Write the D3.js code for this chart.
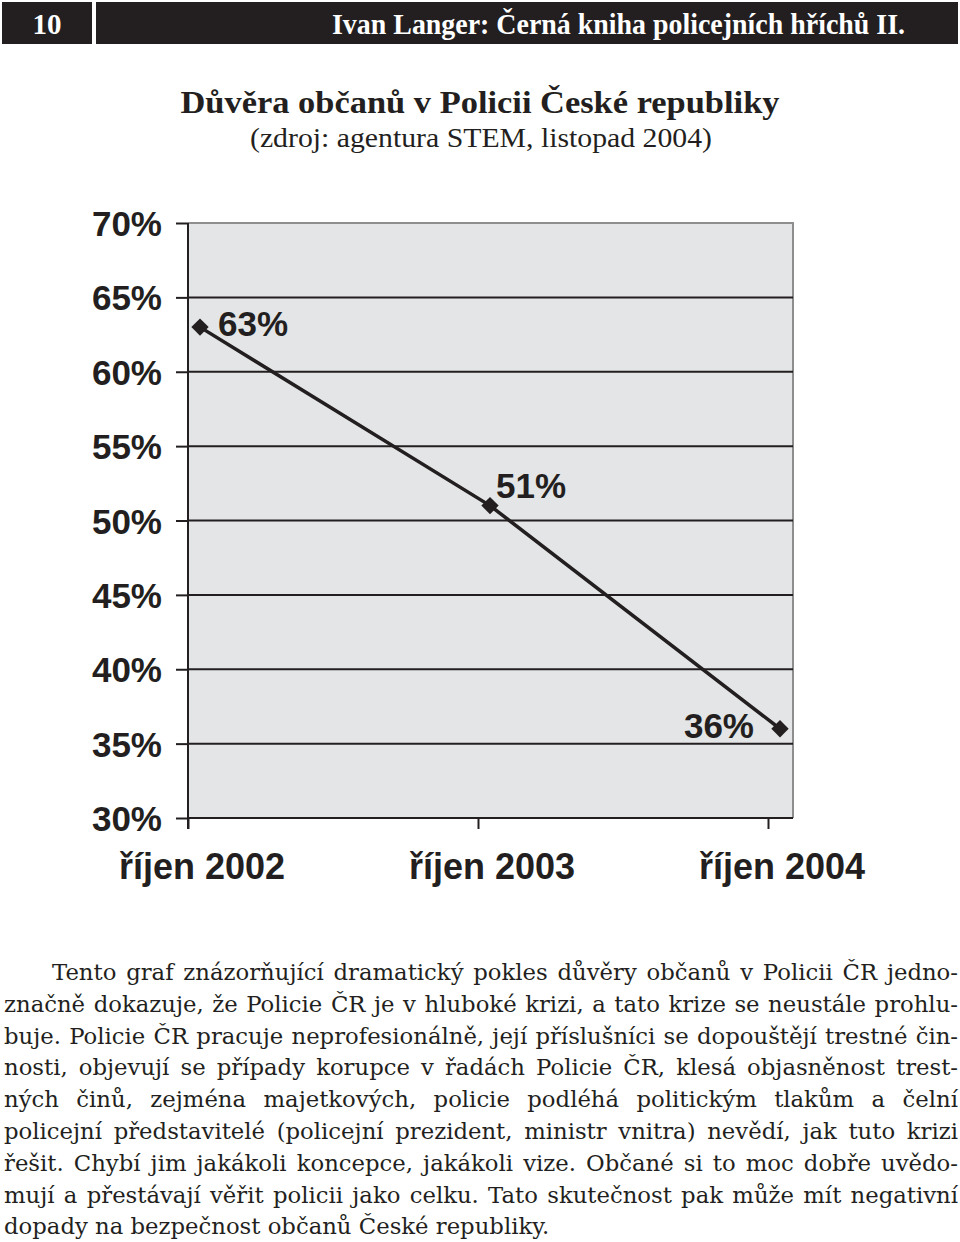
<!DOCTYPE html>
<html><head><meta charset="utf-8">
<script src="https://cdn.jsdelivr.net/npm/d3@7"></script>
<style>
html,body{margin:0;padding:0;background:#fff;}
svg{display:block;}
</style></head>
<body>
<svg id="c" width="960" height="1242"></svg>
<script>
// ---- data ----
const categories = ["říjen 2002", "říjen 2003", "říjen 2004"];
const values = [63, 51, 36];
const valueLabels = ["63%", "51%", "36%"];
const yTicks = [30, 35, 40, 45, 50, 55, 60, 65, 70];
const pageNumber = "10";
const headerTitle = "Ivan Langer: Černá kniha policejních hříchů II.";
const chartTitle = "Důvěra občanů v Policii České republiky";
const chartSubtitle = "(zdroj: agentura STEM, listopad 2004)";
const paragraphLines = [
  "Tento graf znázorňující dramatický pokles důvěry občanů v Policii ČR jedno-",
  "značně dokazuje, že Policie ČR je v hluboké krizi, a tato krize se neustále prohlu-",
  "buje. Policie ČR pracuje neprofesionálně, její příslušníci se dopouštějí trestné čin-",
  "nosti, objevují se případy korupce v řadách Policie ČR, klesá objasněnost trest-",
  "ných činů, zejména majetkových, policie podléhá politickým tlakům a čelní",
  "policejní představitelé (policejní prezident, ministr vnitra) nevědí, jak tuto krizi",
  "řešit. Chybí jim jakákoli koncepce, jakákoli vize. Občané si to moc dobře uvědo-",
  "mují a přestávají věřit policii jako celku. Tato skutečnost pak může mít negativní",
  "dopady na bezpečnost občanů České republiky."
];

const svg = d3.select("#c");
const dark = "#231f20";

// ---- header ----
svg.append("rect").attr("x", 2).attr("y", 2).attr("width", 90).attr("height", 42).attr("fill", dark);
svg.append("rect").attr("x", 96).attr("y", 2).attr("width", 862).attr("height", 42).attr("fill", dark);
svg.append("text").text(pageNumber).attr("x", 47).attr("y", 34)
  .attr("text-anchor", "middle").attr("fill", "#fff")
  .attr("textLength", 29).attr("lengthAdjust", "spacingAndGlyphs")
  .style("font-family", "'Liberation Serif', serif").style("font-weight", "bold").style("font-size", "30px");
svg.append("text").text(headerTitle).attr("x", 905).attr("y", 34)
  .attr("text-anchor", "end").attr("fill", "#fff")
  .attr("textLength", 573).attr("lengthAdjust", "spacingAndGlyphs")
  .style("font-family", "'Liberation Serif', serif").style("font-weight", "bold").style("font-size", "29px");

// ---- titles ----
svg.append("text").text(chartTitle).attr("x", 480).attr("y", 113)
  .attr("text-anchor", "middle").attr("fill", dark)
  .attr("textLength", 599).attr("lengthAdjust", "spacingAndGlyphs")
  .style("font-family", "'Liberation Serif', serif").style("font-weight", "bold").style("font-size", "32px");
svg.append("text").text(chartSubtitle).attr("x", 481).attr("y", 147)
  .attr("text-anchor", "middle").attr("fill", dark)
  .attr("textLength", 462).attr("lengthAdjust", "spacingAndGlyphs")
  .style("font-family", "'Liberation Serif', serif").style("font-size", "28px");

// ---- chart ----
const plot = {left: 187, right: 793, top: 223, bottom: 818};
const y = d3.scaleLinear().domain([30, 70]).range([plot.bottom, plot.top]);
const xTick = d3.scalePoint().domain(categories).range([188, 768]);
const pointShift = 12;
const xp = c => xTick(c) + pointShift;

const g = svg.append("g");
g.append("rect").attr("x", plot.left).attr("y", plot.top)
  .attr("width", plot.right - plot.left).attr("height", plot.bottom - plot.top)
  .attr("fill", "#e4e5e7");
g.append("path").attr("d", `M${plot.left},${plot.top}H${plot.right}V${plot.bottom}`)
  .attr("fill", "none").attr("stroke", "#8e8e8e").attr("stroke-width", 2);

// y axis with gridlines
const yAxis = d3.axisLeft(y).tickValues(yTicks).tickFormat(d => d + "%")
  .tickSize(11).tickPadding(14);
const ya = g.append("g").attr("transform", `translate(${plot.left},0)`).call(yAxis);
ya.select(".domain").remove();
ya.selectAll(".tick line").attr("stroke", dark).attr("stroke-width", 2);
ya.selectAll(".tick text").attr("fill", dark)
  .style("font-family", "'Liberation Sans', Arial, sans-serif").style("font-weight", "bold").style("font-size", "35px")
  .attr("dy", "0.36em");
g.append("g").selectAll("line").data(yTicks.filter(d => d < 70)).join("line")
  .attr("x1", plot.left).attr("x2", plot.right)
  .attr("y1", d => y(d)).attr("y2", d => y(d))
  .attr("stroke", dark).attr("stroke-width", 2);
g.append("line").attr("x1", plot.left + 1).attr("x2", plot.left + 1)
  .attr("y1", plot.top).attr("y2", plot.bottom + 11)
  .attr("stroke", dark).attr("stroke-width", 2);

// x axis
const xAxis = d3.axisBottom(xTick).tickSize(11).tickFormat("");
const xa = g.append("g").attr("transform", `translate(0,${plot.bottom})`).call(xAxis);
xa.select(".domain").remove();
xa.selectAll(".tick line").attr("stroke", dark).attr("stroke-width", 2);
g.append("g").selectAll("text").data(categories).join("text")
  .text(d => d).attr("x", d => xp(d) + 2).attr("y", 879)
  .attr("text-anchor", "middle").attr("fill", dark)
  .style("font-family", "'Liberation Sans', Arial, sans-serif").style("font-weight", "bold").style("font-size", "36px");

// line
const pts = categories.map((c, i) => ({c, v: values[i], l: valueLabels[i]}));
g.append("path").datum(pts)
  .attr("d", d3.line().x(d => xp(d.c)).y(d => y(d.v)))
  .attr("fill", "none").attr("stroke", dark).attr("stroke-width", 3.5);
g.append("g").selectAll("path").data(pts).join("path")
  .attr("d", d3.symbol().type(d3.symbolSquare).size(150))
  .attr("transform", d => `translate(${xp(d.c)},${y(d.v)}) rotate(45)`)
  .attr("fill", dark);

// value labels
const labelOffsets = [
  {dx: 18, dy: 9, anchor: "start"},
  {dx: 6, dy: -8, anchor: "start"},
  {dx: -26, dy: 9, anchor: "end"}
];
g.append("g").selectAll("text").data(pts).join("text")
  .text(d => d.l)
  .attr("x", (d, i) => xp(d.c) + labelOffsets[i].dx)
  .attr("y", (d, i) => y(d.v) + labelOffsets[i].dy)
  .attr("text-anchor", (d, i) => labelOffsets[i].anchor)
  .attr("fill", dark)
  .style("font-family", "'Liberation Sans', Arial, sans-serif").style("font-weight", "bold").style("font-size", "35px");

// ---- paragraph (justified) ----
const para = svg.append("g").style("font-family", "'DejaVu Serif', serif").attr("fill", dark);
const left = 4, right = 958, indent = 48, base = 980, lh = 31.8;
let fs = 21;
const meas = para.append("text").style("font-size", fs + "px");
let maxRatio = 0;
paragraphLines.forEach((ln, i) => {
  if (i === paragraphLines.length - 1) return;
  meas.text(ln);
  const w = meas.node().getComputedTextLength();
  const target = right - (i === 0 ? left + indent : left);
  maxRatio = Math.max(maxRatio, w / target);
});
meas.remove();
fs = fs * 0.99 / maxRatio;
paragraphLines.forEach((ln, i) => {
  const x0 = i === 0 ? left + indent : left;
  const t = para.append("text").attr("x", x0).attr("y", base + i * lh)
    .style("font-size", fs + "px").text(ln);
  if (i < paragraphLines.length - 1) {
    const w = t.node().getComputedTextLength();
    const spaces = (ln.match(/ /g) || []).length;
    const ws = (right - x0 - w) / spaces;
    t.style("word-spacing", ws + "px");
  }
});
</script>
</body></html>
